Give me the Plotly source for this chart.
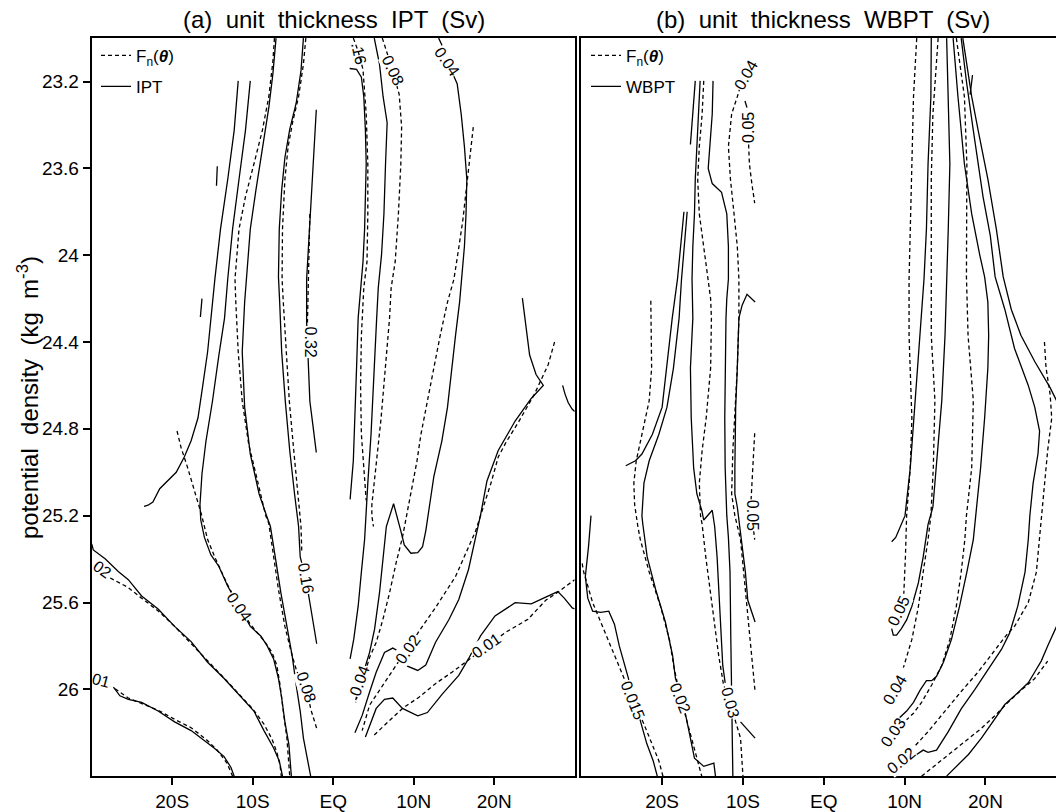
import plotly.graph_objects as go

# ---------------- Panel (a): unit thickness IPT (solid) ----------------
a_ipt_s_outer = [(-11.8,23.197),(-12.3,23.425),(-13.1,23.65),(-14.0,23.88),(-14.7,24.11),(-15.2,24.29),(-15.6,24.445),
                 (-16.2,24.6),(-16.8,24.75),(-17.65,24.855),(-18.5,24.93),(-19.5,25.0),(-20.7,25.046),(-21.55,25.076),
                 (-22.4,25.137),(-23.0,25.152),(-23.5,25.157)]
a_ipt_bit1 = [(-14.4,23.59),(-14.5,23.68)]
a_ipt_bit2 = [(-16.3,24.2),(-16.5,24.285)]
a_ipt_s04 = [(-10.3,23.197),(-10.9,23.425),(-11.7,23.65),(-12.5,23.88),(-13.1,24.11),(-13.5,24.29),(-14.2,24.46),
             (-15.0,24.673),(-15.8,24.855),(-16.3,25.007),(-16.55,25.15),(-16.45,25.22),(-16.0,25.30),(-15.2,25.38),
             (-14.2,25.434),(-13.1,25.525),(-11.7,25.617),(-10.3,25.71),(-9.0,25.754),(-8.2,25.80),(-7.4,25.86),
             (-6.8,25.95),(-6.4,26.04),(-6.0,26.15),(-5.5,26.256),(-5.2,26.4)]
a_ipt_s02 = [(-30.0,25.33),(-29.8,25.358),(-28.3,25.40),(-26.7,25.457),(-25.45,25.495),(-23.8,25.57),(-21.75,25.63),
             (-19.7,25.71),(-17.65,25.78),(-15.6,25.875),(-13.55,25.95),(-11.5,26.035),(-9.85,26.10),(-8.6,26.19),
             (-7.4,26.27),(-6.7,26.33),(-6.3,26.4)]
a_ipt_s01 = [(-27.3,25.99),(-26.5,26.03),(-25.45,26.046),(-23.8,26.06),(-21.75,26.10),(-19.7,26.15),(-17.65,26.19),
             (-16.4,26.225),(-14.8,26.27),(-13.55,26.31),(-12.7,26.36),(-12.3,26.4)]
a_ipt_s08 = [(-7.1,23.0),(-7.5,23.167),(-8.0,23.32),(-8.8,23.5),(-9.6,23.70),(-10.3,23.88),(-10.75,24.11),(-11.0,24.216),
             (-11.3,24.445),(-11.0,24.70),(-10.3,24.916),(-9.2,25.1),(-8.3,25.198),(-7.8,25.25),(-7.2,25.39),
             (-6.5,25.556),(-5.75,25.71),(-5.1,25.845),(-4.6,25.98),(-4.1,26.10),(-3.7,26.225),(-3.2,26.33),(-2.8,26.4)]
a_ipt_s16 = [(-3.7,23.0),(-4.0,23.15),(-4.6,23.30),(-5.4,23.42),(-6.0,23.55),(-6.4,23.7),(-6.7,23.88),(-6.8,24.1),
             (-6.65,24.216),(-6.4,24.445),(-5.95,24.673),(-5.4,24.9),(-4.8,25.1),(-4.5,25.198),(-4.3,25.25),
             (-4.1,25.39),(-3.4,25.49),(-2.9,25.60),(-2.5,25.69),(-2.05,25.79)]
a_ipt_32 = [(-2.1,23.33),(-2.5,23.58),(-2.8,23.81),(-3.1,23.96),(-3.3,24.11),(-3.3,24.216),(-3.3,24.31),(-3.2,24.40),
            (-3.1,24.498),(-2.9,24.673),(-2.5,24.79),(-2.1,24.909)]
a_ipt_n16 = [(2.05,23.14),(2.9,23.144),(3.5,23.18),(3.8,23.27),(4.0,23.425),(4.1,23.58),(4.0,23.73),(3.9,23.88),
             (3.7,24.03),(3.4,24.15),(3.1,24.29),(2.9,24.52),(2.7,24.764),(2.5,24.947),(2.1,25.125)]
a_ipt_n08 = [(5.1,23.0),(5.75,23.12),(6.2,23.27),(6.7,23.39),(6.5,23.58),(6.3,23.81),(6.0,24.0),(5.6,24.15),(5.4,24.29),
             (5.1,24.52),(4.7,24.825),(4.3,25.05),(4.1,25.198),(3.9,25.31),(3.5,25.46),(3.1,25.617),(2.55,25.77),(2.1,25.86)]
a_ipt_n04 = [(13.1,23.0),(13.6,23.04),(14.2,23.11),(15.4,23.21),(15.9,23.35),(16.3,23.5),(16.6,23.65),(16.5,23.81),
             (16.3,23.96),(16.0,24.11),(15.7,24.216),(15.2,24.368),(14.7,24.52),(14.2,24.70),(13.5,24.855),(12.5,25.02),
             (12.0,25.145),(11.5,25.27),(11.1,25.343),(10.5,25.37),(9.65,25.373),(8.83,25.335),(8.4,25.27),(7.5,25.145),
             (6.6,25.25),(6.25,25.39),(5.75,25.556),(5.14,25.723),(4.52,25.83),(3.9,25.905),(3.3,25.97),(2.8,26.05)]
a_ipt_n02 = [(23.5,24.198),(24.0,24.33),(24.4,24.46),(25.2,24.55),(26.1,24.60),(24.6,24.66),(22.6,24.764),(20.5,24.90),
             (19.1,25.04),(18.3,25.198),(16.8,25.449),(15.6,25.586),(14.4,25.677),(12.7,25.784),(11.5,25.888),
             (10.5,25.913),(9.0,25.89),(8.0,25.822),(7.4,25.81),(6.37,25.83),(5.34,25.921),(4.52,26.012),(3.6,26.12),(2.7,26.2)]
a_ipt_n01 = [(4.0,26.22),(4.52,26.165),(5.34,26.088),(6.37,26.046),(7.4,26.04),(8.6,26.088),(10.5,26.122),(11.7,26.107),
             (13.6,26.02),(15.6,25.936),(16.8,25.86),(18.3,25.754),(20.1,25.662),(22.6,25.601),(24.6,25.606),
             (26.4,25.575),(27.9,25.55),(28.7,25.58),(29.7,25.625),(30.0,25.63)]
a_ipt_edge = [(28.5,24.6),(28.8,24.64),(29.2,24.68),(29.7,24.71),(30.0,24.72)]

# ---------------- Panel (a): F_n(theta) (dashed) ----------------
a_fn_s04 = [(-19.4,24.81),(-18.9,24.886),(-18.1,24.977),(-17.2,25.085),(-16.4,25.19),(-16.2,25.22),(-15.6,25.31),
            (-14.6,25.40),(-13.1,25.52),(-11.7,25.617),(-10.3,25.70),(-8.6,25.776),(-7.6,25.83),(-7.0,25.89),
            (-6.6,25.98),(-6.2,26.10),(-5.75,26.225),(-5.4,26.4)]
a_fn_s02 = [(-27.7,25.487),(-25.5,25.53),(-23.8,25.58),(-21.7,25.64),(-19.7,25.71),(-17.6,25.79),(-15.6,25.87),
            (-13.5,25.95),(-11.5,26.03),(-10.0,26.09),(-8.6,26.16),(-7.6,26.23),(-7.0,26.29),(-6.6,26.35),(-6.45,26.4)]
a_fn_s01 = [(-27.1,25.997),(-25.45,26.04),(-23.5,26.07),(-21.75,26.096),(-19.6,26.14),(-17.65,26.177),(-15.8,26.23),
            (-14.4,26.28),(-13.2,26.34),(-12.5,26.4)]
a_fn_s08 = [(-7.3,23.0),(-7.5,23.11),(-8.0,23.27),(-8.8,23.425),(-9.85,23.58),(-10.9,23.73),(-11.7,23.88),(-12.2,24.11),
            (-12.1,24.216),(-11.8,24.445),(-11.3,24.673),(-10.5,24.87),(-9.4,25.04),(-8.4,25.198),(-8.0,25.236),
            (-7.5,25.358),(-6.8,25.54),(-6.0,25.71),(-5.1,25.845),(-4.5,25.92),(-3.3,25.99),(-2.8,26.09),(-2.05,26.18)]
a_fn_s16 = [(-3.4,23.0),(-3.7,23.12),(-4.3,23.27),(-5.0,23.38),(-5.6,23.5),(-6.0,23.65),(-6.3,23.88),(-6.35,24.11),
            (-6.2,24.216),(-5.8,24.445),(-5.45,24.673),(-4.9,24.9),(-4.4,25.1),(-4.1,25.198),(-4.0,25.25),(-3.9,25.37)]
a_fn_32 = [(-2.9,23.81),(-3.0,23.96),(-3.1,24.11),(-3.2,24.22),(-3.2,24.31)]
a_fn_n16 = [(2.5,23.0),(3.1,23.06),(3.7,23.144),(4.1,23.35),(4.3,23.58),(4.3,23.81),(4.2,24.03),(3.8,24.15),(3.5,24.37),
            (3.4,24.6),(3.5,24.825),(3.9,25.05),(4.1,25.13)]
a_fn_n08 = [(6.1,23.0),(6.5,23.045),(7.4,23.15),(8.2,23.26),(8.5,23.41),(8.4,23.58),(8.1,23.81),(7.7,24.03),(7.2,24.15),
            (7.0,24.29),(6.5,24.52),(5.95,24.75),(5.3,24.977),(4.8,25.15),(4.8,25.2),(5.0,25.25)]
a_fn_n04 = [(17.4,23.41),(17.0,23.55),(16.6,23.68),(16.1,23.84),(15.5,23.99),(15.0,24.11),(14.2,24.216),(13.3,24.368),
            (12.5,24.52),(11.7,24.673),(10.9,24.825),(10.4,24.95),(10.0,25.03),(9.3,25.16),(8.6,25.3),(7.8,25.42),
            (7.0,25.556),(6.16,25.68),(5.34,25.784),(4.52,25.853),(3.9,25.93),(3.3,25.98),(2.8,26.06)]
a_fn_n02 = [(27.5,24.40),(26.7,24.505),(25.0,24.64),(23.0,24.77),(21.5,24.86),(20.5,24.93),(19.6,25.05),(18.5,25.18),
            (17.7,25.27),(15.2,25.48),(12.7,25.624),(10.7,25.73),(9.24,25.815),(7.8,25.89),(6.16,25.982),(4.52,26.073),(3.6,26.19)]
a_fn_n01 = [(5.1,26.21),(6.98,26.142),(8.6,26.088),(10.7,26.035),(12.7,25.974),(14.8,25.92),(16.8,25.865),(19.1,25.80),
            (21.4,25.738),(24.2,25.677),(26.4,25.59),(28.0,25.55),(29.7,25.50),(30.0,25.495)]

# ---------------- Panel (b): unit thickness WBPT (solid) ----------------
b_wbpt_a = [(-15.9,23.197),(-16.2,23.35),(-16.5,23.49)]
b_wbpt_b = [(-15.3,23.197),(-15.5,23.35),(-15.7,23.5),(-15.9,23.65),(-16.0,23.81),(-16.2,23.96),(-16.3,24.11),(-16.2,24.29),
            (-16.5,24.52),(-16.4,24.75),(-16.1,24.98),(-15.7,25.10),(-15.1,25.175),(-14.85,25.22),(-13.8,25.175),
            (-13.5,25.25),(-13.2,25.39),(-12.9,25.617),(-12.6,25.80),(-12.5,25.89),(-12.2,25.97)]
b_wbpt_c = [(-13.7,23.197),(-13.8,23.35),(-14.1,23.5),(-14.3,23.6),(-13.8,23.67),(-12.65,23.71),(-12.0,23.81),(-11.8,23.96),
            (-11.8,24.11),(-12.0,24.2),(-12.1,24.29),(-12.2,24.52),(-12.25,24.75),(-12.2,24.98),(-12.0,25.2),(-11.8,25.3),
            (-11.6,25.46),(-11.5,25.77),(-11.4,25.97),(-11.3,26.15),(-11.25,26.4)]
b_wbpt_e = [(-17.3,23.8),(-17.7,23.96),(-18.1,24.11),(-18.75,24.29),(-19.4,24.52),(-20.0,24.70),(-21.2,24.825),
            (-22.5,24.916),(-23.3,24.947),(-24.5,24.97)]
b_wbpt_f = [(-16.9,23.8),(-17.3,23.96),(-17.6,24.11),(-17.9,24.29),(-18.6,24.52),(-19.4,24.70),(-20.4,24.825),
            (-21.6,24.947),(-22.25,25.05),(-22.5,25.2),(-22.4,25.236),(-21.85,25.39),(-20.8,25.54),(-19.6,25.69),
            (-18.7,25.845),(-18.35,25.95),(-17.8,26.01),(-17.3,26.08),(-16.9,26.15),(-16.5,26.225),(-16.0,26.317),
            (-14.85,26.355),(-13.6,26.34),(-13.4,26.4)]
b_wbpt_h = [(-8.5,24.216),(-9.5,24.18),(-10.1,24.23),(-10.5,24.29),(-10.7,24.52),(-10.9,24.70),(-11.0,24.98),(-11.0,25.1),
            (-10.7,25.16),(-10.2,25.31),(-9.7,25.46),(-9.4,25.59),(-8.5,25.69)]
b_wbpt_hook = [(-10.3,26.15),(-9.6,26.18),(-8.5,26.225)]
b_wbpt_bar = [(-9.75,23.29),(-9.5,23.32)]
b_wbpt_j = [(-28.8,25.2),(-29.1,25.34),(-29.5,25.48),(-29.2,25.58),(-28.6,25.64),(-27.6,25.645),(-26.6,25.64),(-25.9,25.70),
            (-25.3,25.80),(-24.3,25.93),(-23.5,26.04),(-22.7,26.15),(-21.9,26.25),(-21.1,26.33),(-20.6,26.4)]
b_wbpt_n1 = [(13.3,23.0),(13.25,23.27),(12.9,23.58),(12.7,23.88),(12.4,24.11),(11.9,24.37),(11.3,24.67),(10.7,24.98),
             (10.05,25.2),(9.5,25.25),(8.9,25.3),(8.4,25.32)]
b_wbpt_n2 = [(15.2,23.0),(15.4,23.27),(15.6,23.58),(15.4,23.88),(15.2,24.11),(15.0,24.37),(14.6,24.67),(13.95,24.98),
             (13.5,25.16),(12.9,25.24),(12.3,25.39),(11.7,25.51),(10.9,25.617),(10.25,25.68),(9.6,25.72),(9.0,25.75),
             (8.6,25.75),(8.4,25.72)]
b_wbpt_n3 = [(16.0,23.0),(16.6,23.27),(17.4,23.58),(18.3,23.81),(19.3,24.0),(19.9,24.1),(20.3,24.216),(20.4,24.37),
             (20.3,24.52),(19.9,24.75),(19.4,24.98),(18.9,25.16),(18.5,25.31),(17.7,25.46),(16.8,25.617),(15.8,25.77),
             (14.8,25.875),(13.95,25.94),(13.35,25.96),(12.7,25.96),(11.9,26.005),(11.1,26.06),(10.25,26.10),(9.4,26.13),(8.8,26.13)]
b_wbpt_bulge = [(17.0,23.0),(17.65,23.2),(18.5,23.425),(19.7,23.73),(20.6,23.91),(21.2,24.1),(22.4,24.25),(23.6,24.43),
                (25.3,24.6),(26.1,24.70),(26.7,24.81),(26.5,24.916),(25.9,25.05),(25.5,25.198),(25.3,25.31),(24.9,25.46),
                (24.0,25.617),(23.0,25.74),(22.0,25.815),(20.4,25.906),(18.7,26.0),(17.0,26.09),(15.4,26.195),
                (13.95,26.28),(12.9,26.29),(12.3,26.28),(11.3,26.305)]
b_wbpt_redge = [(17.2,23.0),(18.3,23.27),(19.1,23.425),(20.3,23.65),(21.35,23.88),(22.2,24.1),(23.2,24.25),(24.4,24.37),
                (26.1,24.49),(27.3,24.566),(28.0,24.61),(28.8,24.67)]
b_wbpt_r2 = [(15.2,26.4),(16.6,26.35),(17.9,26.3),(19.5,26.225),(21.2,26.135),(22.4,26.07),(23.6,26.03),(25.3,25.97),
             (26.1,25.92),(26.9,25.87),(27.7,25.80),(28.6,25.73),(28.8,25.71)]
b_wbpt_tiny = [(18.4,23.17),(18.1,23.26)]

# ---------------- Panel (b): F_n(theta) (dashed) ----------------
b_fn_b = [(-14.85,23.197),(-15.05,23.35),(-15.4,23.5),(-15.6,23.65),(-15.4,23.81),(-14.85,23.96),(-14.3,24.11),(-14.0,24.2),
          (-13.9,24.29),(-14.0,24.52),(-14.55,24.75),(-15.05,24.9),(-15.4,25.05),(-15.25,25.2),(-15.05,25.24),(-14.6,25.39),
          (-13.8,25.617),(-13.0,25.845),(-12.4,25.98),(-11.55,26.06),(-10.9,26.15),(-10.3,26.225),(-10.0,26.4)]
b_fn_cd = [(-8.9,23.11),(-9.7,23.17),(-10.3,23.22),(-10.7,23.27),(-11.4,23.35),(-11.8,23.5),(-11.55,23.65),(-11.1,23.81),
           (-10.7,23.96),(-10.5,24.11),(-10.5,24.29),(-10.7,24.52),(-10.9,24.67),(-11.25,24.9),(-11.4,25.1),(-11.0,25.2),
           (-10.3,25.31),(-9.9,25.46),(-9.5,25.617),(-9.1,25.77),(-8.7,25.92),(-8.5,26.01)]
b_fn_s05 = [(-9.3,23.49),(-9.2,23.58),(-8.9,23.67),(-8.55,23.76)]
b_fn_s05b = [(-8.55,24.82),(-8.8,24.98),(-9.0,25.13),(-8.9,25.2),(-8.7,25.28),(-8.55,25.31)]
b_fn_g = [(-21.4,24.21),(-21.3,24.52),(-21.6,24.67),(-22.5,24.825),(-23.2,24.947),(-23.5,25.05),(-23.4,25.15),(-23.0,25.25),
          (-22.7,25.31),(-21.6,25.46),(-20.2,25.617),(-19.1,25.77),(-18.5,25.906),(-17.7,26.04),(-16.9,26.15),
          (-16.1,26.256),(-15.3,26.36),(-15.1,26.4)]
b_fn_jd = [(-29.9,25.42),(-29.7,25.46),(-28.6,25.6),(-27.4,25.71),(-26.0,25.83),(-24.9,25.93),(-23.7,26.04),(-22.25,26.16),
           (-21.2,26.256),(-20.4,26.33),(-19.9,26.4)]
b_fn_n1 = [(11.5,23.0),(11.1,23.27),(10.9,23.58),(10.7,23.88),(10.55,24.11),(10.55,24.37),(10.9,24.75),(10.7,24.98),
           (10.25,25.2),(10.1,25.39),(9.9,25.56)]
b_fn_n2 = [(14.15,23.0),(13.95,23.12),(13.5,23.35),(13.3,23.65),(13.25,24.11),(13.3,24.37),(13.75,24.67),(13.55,24.98),
           (13.25,25.2),(12.9,25.31),(12.3,25.46),(11.7,25.62),(10.9,25.77),(10.25,25.845),(9.85,25.9)]
b_fn_n3 = [(16.4,23.0),(17.4,23.27),(17.7,23.58),(17.7,23.88),(17.65,24.1),(17.85,24.37),(18.5,24.67),(18.3,24.98),
           (17.65,25.2),(17.45,25.31),(17.0,25.46),(16.4,25.617),(15.6,25.77),(14.6,25.89),(13.35,25.98),(12.1,26.06),
           (11.1,26.11),(10.25,26.14)]
b_fn_bulge = [(27.3,24.40),(27.5,24.52),(28.0,24.64),(28.2,24.75),(27.7,24.9),(27.3,25.05),(26.9,25.2),(26.7,25.31),
              (26.3,25.46),(25.3,25.6),(23.6,25.71),(22.6,25.75),(21.2,25.82),(19.1,25.92),(17.0,26.01),(15.0,26.10),
              (12.9,26.195),(11.3,26.26)]
b_fn_r2 = [(12.1,26.4),(13.75,26.35),(15.4,26.3),(17.4,26.24),(19.5,26.18),(21.2,26.12),(22.8,26.06),(24.4,26.005),
           (26.1,25.95),(27.3,25.89),(27.7,25.87)]

# ---------------- contour labels ----------------
a_label_text = [".16", "0.08", "0.04", "0.32", "0.16", "0.04", "0.08", "02", "01", "0.04", "0.02", "0.01"]
a_label_lat = [3.2, 7.4, 14.1, -2.7, -3.4, -11.7, -3.3, -28.7, -28.8, 3.3, 9.24, 19.1]
a_label_den = [23.07, 23.15, 23.11, 24.40, 25.49, 25.617, 25.99, 25.45, 25.96, 25.96, 25.815, 25.80]
b_label_text = ["0.04", "0.05", "0.05", "0.015", "0.02", "0.03", "0.05", "0.04", "0.03", "0.02", "0.01"]
b_label_lat = [-9.7, -9.4, -8.9, -23.6, -17.7, -11.55, 9.2, 8.8, 8.6, 9.6, 29.8]
b_label_den = [23.17, 23.41, 25.2, 26.05, 26.04, 26.06, 25.64, 26.0, 26.2, 26.33, 25.79]

lat_ticks = [-20, -10, 0, 10, 20]
lat_tick_text = ["20S", "10S", "EQ", "10N", "20N"]
den_ticks = [23.2, 23.6, 24.0, 24.4, 24.8, 25.2, 25.6, 26.0]
den_tick_text = ["23.2", "23.6", "24", "24.4", "24.8", "25.2", "25.6", "26"]

# ---------------- styles ----------------
a_label_angle = [78, 65, 55, 90, 80, 55, 72, 35, 15, -70, -55, -35]
b_label_angle = [-60, -90, 90, 68, 68, 75, -65, -60, -55, -40, -40]
FONT = "Liberation Sans, Arial, Helvetica, sans-serif"
W, H = 1056, 812
LW = 1.3
AXW = 2
DASH = "4px,3px"

a_solid = [a_ipt_s_outer, a_ipt_bit1, a_ipt_bit2, a_ipt_s04, a_ipt_s02, a_ipt_s01, a_ipt_s08, a_ipt_s16, a_ipt_32,
           a_ipt_n16, a_ipt_n08, a_ipt_n04, a_ipt_n02, a_ipt_n01, a_ipt_edge]
a_dash = [a_fn_s04, a_fn_s02, a_fn_s01, a_fn_s08, a_fn_s16, a_fn_32, a_fn_n16, a_fn_n08, a_fn_n04, a_fn_n02, a_fn_n01]
b_solid = [b_wbpt_a, b_wbpt_b, b_wbpt_c, b_wbpt_e, b_wbpt_f, b_wbpt_h, b_wbpt_hook, b_wbpt_bar, b_wbpt_j, b_wbpt_n1,
           b_wbpt_n2, b_wbpt_n3, b_wbpt_bulge, b_wbpt_redge, b_wbpt_r2, b_wbpt_tiny]
b_dash = [b_fn_b, b_fn_cd, b_fn_s05, b_fn_s05b, b_fn_g, b_fn_jd, b_fn_n1, b_fn_n2, b_fn_n3, b_fn_bulge, b_fn_r2]

fig = go.Figure()


def add_lines(lines, dashed, xa, ya, legend, name, group):
    for i, pts in enumerate(lines):
        fig.add_trace(go.Scatter(
            x=[p[0] for p in pts], y=[p[1] for p in pts], mode="lines",
            xaxis=xa, yaxis=ya, name=name, legend=legend, legendgroup=group,
            showlegend=(i == 0), hoverinfo="skip",
            line=dict(color="black", width=LW, dash=DASH if dashed else "solid")))


fn_name = "F<sub>n</sub>(<b><i>θ</i></b>)"
add_lines(a_dash, True, "x", "y", "legend", fn_name, "afn")
add_lines(a_solid, False, "x", "y", "legend", "IPT", "aipt")
add_lines(b_dash, True, "x2", "y2", "legend2", fn_name, "bfn")
add_lines(b_solid, False, "x2", "y2", "legend2", "WBPT", "bwbpt")

LBL = 16
annotations = []
clear_bg = {"02", "01", ".16"}
for txt, la, de, ang in zip(a_label_text, a_label_lat, a_label_den, a_label_angle):
    annotations.append(dict(x=la, y=de, xref="x", yref="y", text=txt, showarrow=False, textangle=ang,
                            font=dict(family=FONT, size=LBL, color="black"),
                            bgcolor="rgba(0,0,0,0)" if txt in clear_bg else "white", borderpad=0))
for txt, la, de, ang in zip(b_label_text, b_label_lat, b_label_den, b_label_angle):
    annotations.append(dict(x=la, y=de, xref="x2", yref="y2", text=txt, showarrow=False, textangle=ang,
                            font=dict(family=FONT, size=LBL, color="black"), bgcolor="white", borderpad=0))

# titles and y-axis title
annotations.append(dict(x=333.5 / W, y=(H - 35) / H, xref="paper", yref="paper", xanchor="center", yanchor="bottom",
                        text="(a)  unit  thickness  IPT  (Sv)", showarrow=False,
                        font=dict(family=FONT, size=24, color="black")))
annotations.append(dict(x=823 / W, y=(H - 35) / H, xref="paper", yref="paper", xanchor="center", yanchor="bottom",
                        text="(b)  unit  thickness  WBPT  (Sv)", showarrow=False,
                        font=dict(family=FONT, size=24, color="black")))
annotations.append(dict(x=28 / W, y=(H - 400) / H, xref="paper", yref="paper", xanchor="center", yanchor="middle",
                        textangle=-90, text="potential  density  (kg  m<sup>-3</sup>)", showarrow=False,
                        font=dict(family=FONT, size=24, color="black")))

# plotly draws frame lines just outside the domain, so shift domains by half a line width
x_dom_a = [(90.7 + AXW / 2) / W, (575.7 - AXW / 2) / W]
x_dom_b = [(580.3 + AXW / 2) / W, 1.0]
y_dom = [(H - 781 + AXW / 2) / H, (H - 37.3 - AXW / 2) / H]

axis_common = dict(showgrid=False, zeroline=False, showline=True, linecolor="black", linewidth=AXW,
                   ticks="outside", ticklen=7, tickwidth=1.5, tickcolor="black",
                   tickfont=dict(family=FONT, size=19, color="black"))

legend_common = dict(bgcolor="rgba(0,0,0,0)", font=dict(family=FONT, size=17, color="black"),
                     xanchor="left", yanchor="top", tracegroupgap=6, itemwidth=30,
                     traceorder="grouped")

fig.update_layout(
    width=W, height=H, margin=dict(l=0, r=0, t=0, b=0),
    paper_bgcolor="white", plot_bgcolor="white",
    font=dict(family=FONT, color="black"),
    xaxis=dict(domain=x_dom_a, range=[-30, 30], tickvals=lat_ticks, ticktext=lat_tick_text, mirror=True,
               anchor="y", **axis_common),
    yaxis=dict(domain=y_dom, range=[26.4, 23.0], tickvals=den_ticks, ticktext=den_tick_text, mirror=True,
               anchor="x", **axis_common),
    xaxis2=dict(domain=x_dom_b, range=[-30, 28.73], tickvals=lat_ticks, ticktext=lat_tick_text, mirror=True,
                anchor="y2", **axis_common),
    yaxis2=dict(domain=y_dom, range=[26.4, 23.0], showticklabels=False, anchor="x2",
                showgrid=False, zeroline=False, showline=True, linecolor="black", linewidth=AXW, ticks=""),
    legend=dict(x=96 / W, y=(H - 38) / H, **legend_common),
    legend2=dict(x=586 / W, y=(H - 38) / H, **legend_common),
    annotations=annotations,
    showlegend=True,
)

fig.write_html("out.html")
